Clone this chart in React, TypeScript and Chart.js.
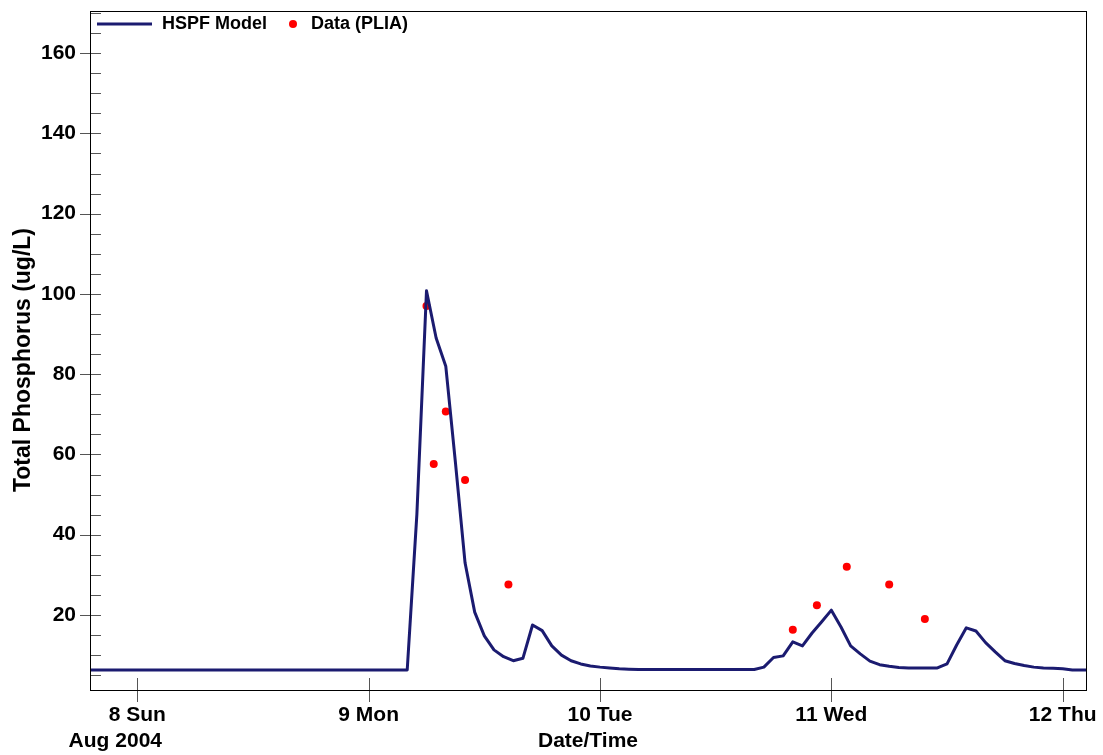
import React, { useEffect, useRef } from 'react';
import { Chart, registerables } from 'chart.js';

Chart.register(...registerables);

// ---- data ----
// x positions are hours since Aug 8 2004 00:00
const dayTicks = [8, 9, 10, 11, 12];
const dayTickLabels = ['8 Sun', '9 Mon', '10 Tue', '11 Wed', '12 Thu'];
const monthLabel = 'Aug 2004';
const xTitle = 'Date/Time';
const yTitle = 'Total Phosphorus (ug/L)';
const legendModel = 'HSPF Model';
const legendData = 'Data (PLIA)';

const modelHours = [
  -6, 28, 29, 30, 31, 32, 33, 34, 35, 36, 37, 38, 39, 40, 41, 42, 43, 44, 45, 46, 47,
  48, 49, 50, 51, 52, 64, 65, 66, 67, 68, 69, 70, 71,
  72, 73, 74, 75, 76, 77, 78, 79, 80, 83, 84, 85, 86, 87, 88, 89, 90, 91, 92, 93, 94, 95,
  96, 97, 98, 99,
];
const modelValues = [
  6.3, 6.3, 45, 100.8, 89, 82, 58, 33, 20.7, 14.8, 11.3, 9.6, 8.6, 9.2, 17.5, 16.1, 12.3, 10.0, 8.6, 7.8, 7.3,
  7.0, 6.8, 6.6, 6.5, 6.4, 6.4, 7.0, 9.4, 9.8, 13.3, 12.3, 15.5, 18.3,
  21.2, 17.0, 12.3, 10.3, 8.5, 7.6, 7.2, 6.9, 6.8, 6.8, 7.8, 12.5, 16.8, 16.0, 13.1, 10.8, 8.6, 7.9, 7.4, 7.0, 6.8, 6.7,
  6.6, 6.3, 6.3, 6.3,
];

const obsHours = [30, 30.75, 32, 34, 38.5, 68, 70.5, 73.6, 78, 81.7];
const obsValues = [97.0, 57.6, 70.7, 53.6, 27.6, 16.3, 22.4, 32.0, 27.6, 19.0];

const yMin = 1.3;
const yMax = 170.5;
const xMin = 7.7955;
const xMax = 12.1007;

const FONT = '"Liberation Sans", Arial, Helvetica, sans-serif';
const NAVY = '#1b1b70';
const RED = '#ff0000';

const toDay = (h: number) => 8 + h / 24;

const framePlugin = {
  id: 'framePlugin',
  afterDraw(chart: any) {
    const { ctx, chartArea } = chart;
    const { left, top, right, bottom } = chartArea;
    const xs = chart.scales.x;
    const ys = chart.scales.y;
    ctx.save();

    // tick marks
    ctx.strokeStyle = '#555';
    ctx.lineWidth = 1;
    ctx.beginPath();
    ys.ticks.forEach((t: any) => {
      const p = Math.round(ys.getPixelForValue(t.value)) + 0.5;
      const major = t.value % 20 === 0;
      ctx.moveTo(major ? left - 10 : left, p);
      ctx.lineTo(left + 11, p);
    });
    xs.ticks.forEach((t: any) => {
      const p = Math.round(xs.getPixelForValue(t.value)) + 0.5;
      ctx.moveTo(p, bottom - 12);
      ctx.lineTo(p, bottom + 12);
    });
    ctx.stroke();

    // frame
    ctx.strokeStyle = '#000';
    ctx.lineWidth = 1;
    ctx.strokeRect(Math.round(left) + 0.5, Math.round(top) + 0.5, Math.round(right - left), Math.round(bottom - top));

    // legend
    const ly = top + 13;
    ctx.strokeStyle = NAVY;
    ctx.lineWidth = 3;
    ctx.beginPath();
    ctx.moveTo(left + 7, ly);
    ctx.lineTo(left + 62, ly);
    ctx.stroke();
    ctx.fillStyle = '#000';
    ctx.font = `bold 18px ${FONT}`;
    ctx.textBaseline = 'middle';
    ctx.textAlign = 'left';
    ctx.fillText(legendModel, left + 72, ly);
    ctx.fillStyle = RED;
    ctx.beginPath();
    ctx.arc(left + 203, ly, 4, 0, Math.PI * 2);
    ctx.fill();
    ctx.fillStyle = '#000';
    ctx.fillText(legendData, left + 221, ly);

    // month label under first day tick
    ctx.font = `bold 21px ${FONT}`;
    ctx.textAlign = 'center';
    ctx.fillText(monthLabel, xs.getPixelForValue(dayTicks[0]) - 22, bottom + 51);

    // y title
    ctx.font = `bold 23px ${FONT}`;
    ctx.translate(24, 360);
    ctx.rotate(-Math.PI / 2);
    ctx.textAlign = 'center';
    ctx.textBaseline = 'middle';
    ctx.fillText(yTitle, 0, 0);

    ctx.restore();
  },
};

export default function App() {
  const canvasRef = useRef<HTMLCanvasElement | null>(null);

  useEffect(() => {
    document.body.style.margin = '0';
    const canvas = canvasRef.current;
    if (!canvas) return;
    const modelData = modelHours.map((h, i) => ({ x: toDay(h), y: modelValues[i] }));
    const obsData = obsHours.map((h, i) => ({ x: toDay(h), y: obsValues[i] }));

    const chart = new Chart(canvas, {
      type: 'scatter',
      data: {
        datasets: [
          {
            label: legendModel,
            data: modelData,
            showLine: true,
            borderColor: NAVY,
            backgroundColor: NAVY,
            borderWidth: 3,
            borderJoinStyle: 'round',
            pointRadius: 0,
            tension: 0,
          },
          {
            label: legendData,
            data: obsData,
            showLine: false,
            pointRadius: 4,
            pointBorderWidth: 0,
            backgroundColor: RED,
            borderColor: RED,
          },
        ],
      },
      options: {
        animation: false,
        responsive: false,
        maintainAspectRatio: false,
        layout: { padding: { top: 11, right: 17, left: 0, bottom: 0 } },
        plugins: {
          legend: { display: false },
          tooltip: { enabled: false },
          title: { display: false },
        },
        scales: {
          x: {
            type: 'linear',
            min: xMin,
            max: xMax,
            afterBuildTicks: (scale: any) => {
              scale.ticks = dayTicks.map((v) => ({ value: v }));
            },
            afterFit: (scale: any) => {
              scale.height = 65;
              scale.paddingLeft = 0;
              scale.paddingRight = 0;
            },
            grid: { display: false, drawTicks: false },
            border: { display: false },
            ticks: {
              padding: 13,
              color: '#000',
              font: { family: FONT, size: 21, weight: 'bold' },
              maxRotation: 0,
              autoSkip: false,
              callback: (v: any) => {
                const i = dayTicks.indexOf(Number(v));
                return i >= 0 ? dayTickLabels[i] : '';
              },
            },
            title: {
              display: true,
              text: xTitle,
              color: '#000',
              font: { family: FONT, size: 21, weight: 'bold' },
              padding: { top: 0, bottom: 1 },
            },
          },
          y: {
            type: 'linear',
            min: yMin,
            max: yMax,
            afterBuildTicks: (scale: any) => {
              const t = [];
              for (let v = 5; v <= 170; v += 5) t.push({ value: v });
              scale.ticks = t;
            },
            afterFit: (scale: any) => {
              scale.width = 90;
              scale.paddingTop = 0;
              scale.paddingBottom = 0;
            },
            grid: { display: false, drawTicks: false },
            border: { display: false },
            ticks: {
              padding: 14,
              color: '#000',
              font: { family: FONT, size: 21, weight: 'bold' },
              autoSkip: false,
              callback: (v: any) => (Number(v) % 20 === 0 ? String(v) : ''),
            },
          },
        },
      },
      plugins: [framePlugin],
    });
    return () => chart.destroy();
  }, []);

  return (
    <div style={{ position: 'fixed', left: 0, top: 0, width: 1103, height: 755, background: '#fff' }}>
      <canvas ref={canvasRef} width={1103} height={755} />
    </div>
  );
}
